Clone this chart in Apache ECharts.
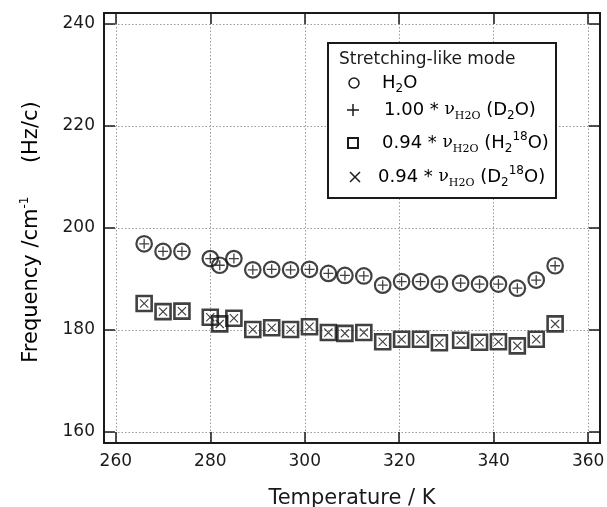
<!DOCTYPE html>
<html>
<head>
<meta charset="utf-8">
<script src="https://cdn.jsdelivr.net/npm/echarts@6/dist/echarts.min.js"></script>
<style>
  html, body { margin: 0; padding: 0; background: #fff; }
  #chart { width: 607px; height: 507px; }
</style>
</head>
<body>
<div id="chart"></div>
<script>
// Temperatures (K) of the measured spectra
const temperatures = [266, 270, 274, 280, 282, 285, 289, 293, 297, 301, 305, 308.5,
  312.5, 316.5, 320.5, 324.5, 328.5, 333, 337, 341, 345, 349, 353];

// Stretching-like mode frequency (cm^-1) for each isotopologue
const freqH2O = [196.9, 195.4, 195.4, 194.0, 192.7, 194.0, 191.8, 191.9, 191.8, 191.9, 191.1, 190.7,
  190.6, 188.8, 189.5, 189.5, 189.0, 189.2, 189.0, 189.0, 188.2, 189.8, 192.6];
const freqD2O = [196.9, 195.4, 195.4, 194.0, 192.7, 194.0, 191.8, 191.9, 191.8, 191.9, 191.1, 190.7,
  190.6, 188.8, 189.5, 189.5, 189.0, 189.2, 189.0, 189.0, 188.2, 189.8, 192.6];
const freqH218O = [185.2, 183.6, 183.7, 182.5, 181.2, 182.3, 180.1, 180.45, 180.1, 180.65, 179.5, 179.35,
  179.5, 177.7, 178.2, 178.2, 177.5, 178.0, 177.6, 177.7, 176.9, 178.2, 181.2];
const freqD218O = [185.2, 183.6, 183.7, 182.5, 181.2, 182.3, 180.1, 180.45, 180.1, 180.65, 179.5, 179.35,
  179.5, 177.7, 178.2, 178.2, 177.5, 178.0, 177.6, 177.7, 176.9, 178.2, 181.2];

// Tick values
const xTicks = [260, 280, 300, 320, 340, 360];
const yTicks = [160, 180, 200, 220, 240];

const INK = '#1a1a1a';
const MARK = '#111';
const FONT = 'DejaVu Sans';

const pairs = (ys) => temperatures.map((t, i) => [t, ys[i]]);

// Filled outlines for the "+" and "x" markers
const PLUS_PATH = 'path://M4.35,0 L5.65,0 L5.65,4.35 L10,4.35 L10,5.65 L5.65,5.65 L5.65,10 L4.35,10 L4.35,5.65 L0,5.65 L0,4.35 L4.35,4.35 Z';
const CROSS_PATH = 'path://M0,0.9 L0.9,0 L5,4.1 L9.1,0 L10,0.9 L5.9,5 L10,9.1 L9.1,10 L5,5.9 L0.9,10 L0,9.1 L4.1,5 Z';

function xAxisDef(position, main) {
  return {
    type: 'value', position, min: 257.5, max: 362.5,
    axisLine: { show: true, onZero: false, lineStyle: { color: INK, width: 2 } },
    axisTick: { show: true, inside: true, length: 11, customValues: xTicks, lineStyle: { color: INK, width: 1.5 } },
    axisLabel: { show: main, customValues: xTicks, margin: 10, fontFamily: FONT, fontSize: 17, color: INK },
    splitLine: { show: main, lineStyle: { color: '#999', width: 1, type: [1.5, 2] } }
  };
}
function yAxisDef(position, main) {
  return {
    type: 'value', position, min: 157.85, max: 242.15,
    axisLine: { show: true, onZero: false, lineStyle: { color: INK, width: 2 } },
    axisTick: { show: true, inside: true, length: 11, customValues: yTicks, lineStyle: { color: INK, width: 1.5 } },
    axisLabel: { show: main, customValues: yTicks, margin: 9, fontFamily: FONT, fontSize: 17, color: INK },
    splitLine: { show: main, lineStyle: { color: '#999', width: 1, type: [1.5, 2] } }
  };
}

const rowRich = {
  t: { fontFamily: FONT, fontSize: 18, color: INK, lineHeight: 24 },
  sb: { fontFamily: FONT, fontSize: 12, color: INK, lineHeight: 12, verticalAlign: 'bottom' },
  sp: { fontFamily: FONT, fontSize: 12, color: INK, lineHeight: 12, verticalAlign: 'top' },
  nu: { fontFamily: 'DejaVu Serif', fontSize: 17, color: INK, lineHeight: 24 },
  ns: { fontFamily: 'DejaVu Serif', fontSize: 11, color: INK, lineHeight: 12, verticalAlign: 'bottom' }
};

function legendText(x, y, text) {
  return { type: 'text', x, y, z: 11, style: { text, rich: rowRich, align: 'left', verticalAlign: 'middle' } };
}
const lineStroke = { stroke: INK, lineWidth: 1.5 };

const chart = echarts.init(document.getElementById('chart'), null, { renderer: 'canvas' });
chart.setOption({
  backgroundColor: '#fff',
  animation: false,
  grid: { left: 104, right: 7, top: 13, bottom: 64, containLabel: false, outerBoundsMode: 'none' },
  xAxis: [xAxisDef('bottom', true), xAxisDef('top', false)],
  yAxis: [yAxisDef('left', true), yAxisDef('right', false)],
  series: [
    { name: 'H2 18O', type: 'scatter', data: pairs(freqH218O), symbol: 'rect', symbolSize: 15,
      itemStyle: { color: 'rgba(0,0,0,0)', borderColor: MARK, borderWidth: 2.6 }, emphasis: { disabled: true }, z: 2 },
    { name: 'D2 18O', type: 'scatter', data: pairs(freqD218O), symbol: CROSS_PATH, symbolSize: 9,
      itemStyle: { color: MARK }, emphasis: { disabled: true }, z: 3 },
    { name: 'H2O', type: 'scatter', data: pairs(freqH2O), symbol: 'circle', symbolSize: 15.5,
      itemStyle: { color: 'rgba(0,0,0,0)', borderColor: MARK, borderWidth: 2.2 }, emphasis: { disabled: true }, z: 2 },
    { name: 'D2O', type: 'scatter', data: pairs(freqD2O), symbol: PLUS_PATH, symbolSize: 10,
      itemStyle: { color: MARK }, emphasis: { disabled: true }, z: 3 }
  ],
  graphic: [
    // axis titles
    { type: 'text', x: 352, y: 499, style: { text: 'Temperature / K', fontFamily: FONT, fontSize: 21, fill: INK, align: 'center', verticalAlign: 'middle' } },
    { type: 'text', x: 32, y: 232, rotation: Math.PI / 2,
      style: { text: '{a|Frequency /cm}{s|-1}{a|     (Hz/c)}', align: 'center', verticalAlign: 'middle',
        rich: {
          a: { fontFamily: FONT, fontSize: 21, color: INK, lineHeight: 26 },
          s: { fontFamily: FONT, fontSize: 12, color: INK, lineHeight: 12, verticalAlign: 'top' }
        } } },
    // legend box and entries
    { type: 'rect', z: 10, shape: { x: 328, y: 43, width: 228, height: 155 }, style: { fill: '#fff', stroke: INK, lineWidth: 2 } },
    { type: 'text', z: 11, x: 339, y: 60, style: { text: 'Stretching-like mode', fontFamily: FONT, fontSize: 17, fill: INK, align: 'left', verticalAlign: 'middle' } },
    { type: 'circle', z: 11, shape: { cx: 354, cy: 83, r: 5 }, style: { fill: 'none', ...lineStroke } },
    legendText(382, 83, '{t|H}{sb|2}{t|O}'),
    { type: 'line', z: 11, shape: { x1: 347, y1: 110, x2: 359, y2: 110 }, style: lineStroke },
    { type: 'line', z: 11, shape: { x1: 353, y1: 104, x2: 353, y2: 116 }, style: lineStroke },
    legendText(384, 110, '{t|1.00 * }{nu|ν}{ns|H2O}{t| (D}{sb|2}{t|O)}'),
    { type: 'rect', z: 11, shape: { x: 348, y: 138, width: 10, height: 10 }, style: { fill: 'none', stroke: INK, lineWidth: 2 } },
    legendText(382, 143, '{t|0.94 * }{nu|ν}{ns|H2O}{t| (H}{sb|2}{sp|18}{t|O)}'),
    { type: 'line', z: 11, shape: { x1: 350, y1: 172, x2: 360, y2: 182 }, style: lineStroke },
    { type: 'line', z: 11, shape: { x1: 350, y1: 182, x2: 360, y2: 172 }, style: lineStroke },
    legendText(378, 177, '{t|0.94 * }{nu|ν}{ns|H2O}{t| (D}{sb|2}{sp|18}{t|O)}')
  ]
});
</script>
</body>
</html>
